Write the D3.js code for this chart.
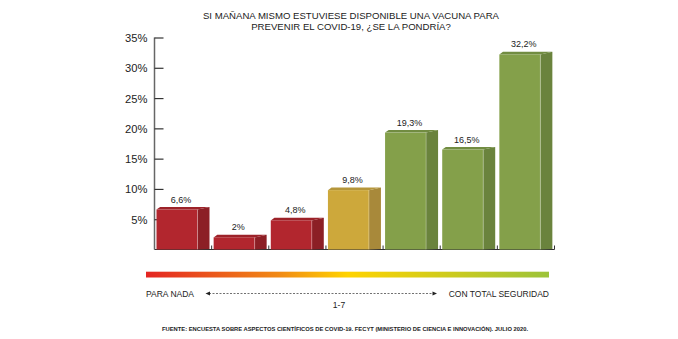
<!DOCTYPE html>
<html><head><meta charset="utf-8">
<script src="https://cdn.jsdelivr.net/npm/d3@7"></script>
<style>
body{margin:0;background:#fff;}
svg{display:block;font-family:"Liberation Sans",Arial,sans-serif;}
</style></head>
<body><svg id="c" width="678" height="339"></svg>
<script>
const categories = ["1","2","3","4","5","6","7"];
const values = [6.6, 2, 4.8, 9.8, 19.3, 16.5, 32.2];
const valueLabels = ["6,6%","2%","4,8%","9,8%","19,3%","16,5%","32,2%"];
const colorGroups = ["red","red","red","yellow","green","green","green"];
const yTicks = [5,10,15,20,25,30,35];
const titleLines = ["SI MAÑANA MISMO ESTUVIESE DISPONIBLE UNA VACUNA PARA","PREVENIR EL COVID-19, ¿SE LA PONDRÍA?"];
const scaleLabels = ["PARA NADA","CON TOTAL SEGURIDAD","1-7"];
const source = "FUENTE: ENCUESTA SOBRE ASPECTOS CIENTÍFICOS DE COVID-19. FECYT (MINISTERIO DE CIENCIA E INNOVACIÓN). JULIO 2020.";

const palette = {
  red:{front:"#B2262E", side:"#8C1F25", top:"#9C2229"},
  yellow:{front:"#CDA83B", side:"#A8893A", top:"#B5963A"},
  green:{front:"#84A04A", side:"#6A833D", top:"#718C41"}
};

const svg = d3.select("#c");
const x = d3.scaleBand().domain(categories).range([154.5, 554.5]).padding(0);
const y = d3.scaleLinear().domain([0,35]).range([249.5, 37.5]);

// title
svg.append("g").selectAll("text").data(titleLines).join("text")
  .attr("x", 351).attr("y",(d,i)=>19+i*10.7)
  .attr("text-anchor","middle").attr("font-size",9.6).attr("fill","#222")
  .text(d=>d);

// y axis
const yAxis = svg.append("g").attr("transform","translate(154.5,0)")
  .call(d3.axisRight(y).tickValues(yTicks).tickSize(9).tickFormat(d=>d+"%"));
yAxis.select(".domain").attr("stroke","#666").attr("stroke-width",1.5).attr("d","M0,37.5V249.5");
yAxis.selectAll(".tick line").attr("stroke","#333").attr("stroke-width",1.2);
yAxis.selectAll(".tick text").attr("x",-7).attr("dy","0.36em").attr("text-anchor","end")
  .attr("font-size",11.2).attr("fill","#222").attr("font-family","Liberation Sans, Arial, sans-serif");

// x baseline with small upward ticks at band boundaries
const xAxis = svg.append("g").attr("transform","translate(0,249.5)");
xAxis.append("line").attr("x1",154.5).attr("x2",554.5).attr("stroke","#333").attr("stroke-width",1);
xAxis.selectAll("line.tk").data(categories).join("line").attr("class","tk")
  .attr("x1",d=>x(d)+x.bandwidth()).attr("x2",d=>x(d)+x.bandwidth())
  .attr("y1",-4).attr("y2",0).attr("stroke","#333").attr("stroke-width",1);

// 3D bars
const frontW = 41, dx = 12, dy = 2.6, off = 2;
const bars = svg.append("g").selectAll("g").data(values).join("g");
bars.each(function(v,i){
  const g = d3.select(this);
  const c = palette[colorGroups[i]];
  const x0 = x(categories[i]) + off, x1 = x0 + frontW;
  const yt = y(v), yb = y(0);
  g.append("polygon").attr("points",[[x1,yt],[x1+dx,yt-dy],[x1+dx,yb-0.5],[x1,yb]].join(" ")).attr("fill",c.side);
  g.append("polygon").attr("points",[[x0,yt],[x0+dx*0.3,yt-dy],[x1+dx,yt-dy],[x1,yt]].join(" ")).attr("fill",c.top);
  g.append("rect").attr("x",x0).attr("y",yt).attr("width",frontW).attr("height",yb-yt).attr("fill",c.front);
  g.append("line").attr("x1",x1).attr("x2",x1).attr("y1",yt).attr("y2",yb).attr("stroke","#fff").attr("stroke-opacity",0.35).attr("stroke-width",0.8);
  g.append("text").attr("x",x0+frontW/2+4).attr("y",yt-7).attr("text-anchor","middle")
    .attr("font-size",9).attr("fill","#222").text(valueLabels[i]);
});

// gradient legend bar
const defs = svg.append("defs");
const grad = defs.append("linearGradient").attr("id","gr");
[[0,"#E42522"],[0.33,"#F18A15"],[0.5,"#FFD300"],[1,"#9CC33A"]].forEach(s=>
  grad.append("stop").attr("offset",s[0]).attr("stop-color",s[1]));
svg.append("rect").attr("x",146).attr("y",271.7).attr("width",403).attr("height",5.8).attr("fill","url(#gr)");

// scale labels + dashed arrow
svg.append("text").attr("x",146).attr("y",296.5).attr("font-size",8.5).attr("fill","#222").text(scaleLabels[0]);
svg.append("text").attr("x",549).attr("y",296.5).attr("text-anchor","end").attr("font-size",8.5).attr("fill","#222").text(scaleLabels[1]);
svg.append("line").attr("x1",209).attr("x2",433).attr("y1",293.5).attr("y2",293.5)
  .attr("stroke","#333").attr("stroke-width",0.7).attr("stroke-dasharray","2,1.5");
svg.append("polygon").attr("points","205.5,293.5 210,291.5 210,295.5").attr("fill","#222");
svg.append("polygon").attr("points","437,293.5 432.5,291.5 432.5,295.5").attr("fill","#222");
svg.append("text").attr("x",339).attr("y",307.5).attr("text-anchor","middle").attr("font-size",8.5).attr("fill","#222").text(scaleLabels[2]);

// source
svg.append("text").attr("x",162).attr("y",331).attr("font-size",5.6).attr("font-weight","bold").attr("fill","#222")
  .attr("textLength",366).attr("lengthAdjust","spacingAndGlyphs").text(source);
</script></body></html>
